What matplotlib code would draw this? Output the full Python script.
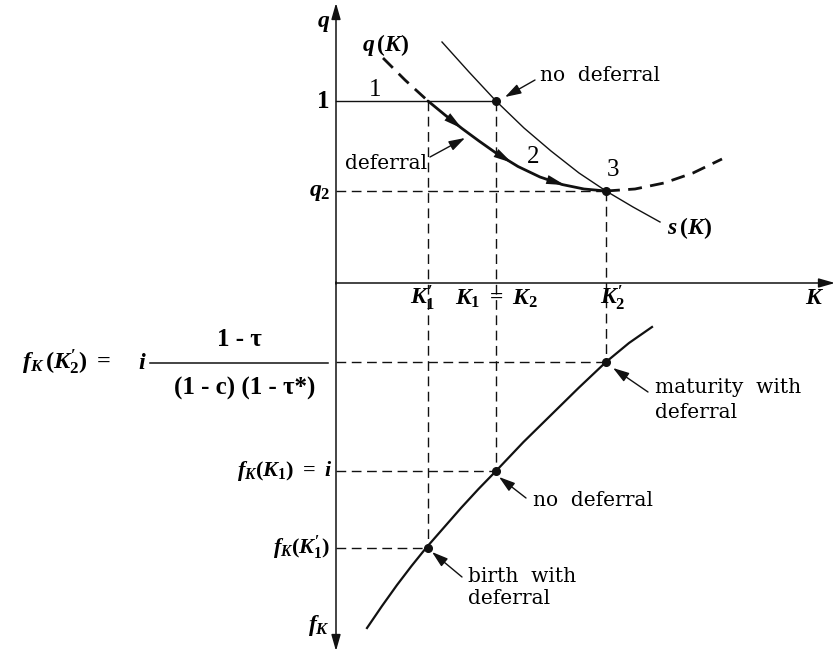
import numpy as np
import matplotlib
matplotlib.use("Agg")
import matplotlib.pyplot as plt

# diagram values (origin = axes crossing, q up, f_K down)
K1p, K1, K2p = 0.92, 1.60, 2.70
q_one, q2 = 1.82, 0.92
fK2p, fK1, fK1p = -0.79, -1.88, -2.65

# s(K) curve
sK_x = [1.06, 1.33, 1.60, 1.88, 2.15, 2.43, 2.70, 2.97, 3.24]
sK_y = [2.41, 2.11, 1.82, 1.55, 1.32, 1.10, 0.92, 0.76, 0.61]

# q(K) curve: solid part with deferral, dashed parts outside
qK_x = [0.92, 1.09, 1.26, 1.43, 1.60, 1.82, 2.04, 2.26, 2.48, 2.70]
qK_y = [1.82, 1.68, 1.545, 1.42, 1.30, 1.165, 1.06, 0.985, 0.94, 0.92]
qK_left_x = [0.47, 0.69, 0.92]
qK_left_y = [2.25, 2.03, 1.82]
qK_right_x = [2.70, 2.99, 3.28, 3.57, 3.86]
qK_right_y = [0.92, 0.94, 1.00, 1.10, 1.24]
arrow_K = [1.26, 1.76, 2.29]

# f_K curve (plotted downward)
fK_x = [0.31, 0.46, 0.61, 0.755, 0.90, 1.075, 1.25, 1.425, 1.60, 1.875, 2.15, 2.425, 2.70, 2.93, 3.16]
fK_y = [-3.45, -3.23, -3.02, -2.83, -2.65, -2.45, -2.25, -2.06, -1.88, -1.59, -1.32, -1.05, -0.79, -0.60, -0.44]

plt.rcParams['font.family'] = 'DejaVu Serif'
plt.rcParams['mathtext.fontset'] = 'custom'
plt.rcParams['mathtext.rm'] = 'Liberation Serif:bold'
plt.rcParams['mathtext.it'] = 'Liberation Serif:italic:bold'
plt.rcParams['mathtext.bf'] = 'Liberation Serif:bold'

fig = plt.figure(figsize=(8.37, 6.53), dpi=100)
ax = fig.add_axes([0, 0, 1, 1])
ax.set_xlim(-3.36, 5.01)
ax.set_ylim(-3.70, 2.83)
ax.axis('off')

ink = '#111111'
dash = (0, (7, 4))
ax_arr = dict(arrowstyle='-|>,head_length=0.7,head_width=0.2', color=ink, lw=1.1,
              mutation_scale=14, shrinkA=0, shrinkB=0)

# axes
ax.annotate('', xy=(0, 2.80), xytext=(0, -0.01), arrowprops=ax_arr)
ax.annotate('', xy=(0, -3.68), xytext=(0, 0.01), arrowprops=ax_arr)
ax.annotate('', xy=(4.99, 0), xytext=(0, 0), arrowprops=ax_arr)

# guide lines
ax.plot([0, K1], [q_one, q_one], color=ink, lw=1.0)
ax.plot([0, K2p], [q2, q2], color=ink, lw=1.0, ls=dash)
ax.plot([K1p, K1p], [q_one, fK1p], color=ink, lw=1.0, ls=dash)
ax.plot([K1, K1], [q_one, fK1], color=ink, lw=1.0, ls=dash)
ax.plot([K2p, K2p], [q2, fK2p], color=ink, lw=1.0, ls=dash)
ax.plot([0, K2p], [fK2p, fK2p], color=ink, lw=1.0, ls=dash)
ax.plot([0, K1], [fK1, fK1], color=ink, lw=1.0, ls=dash)
ax.plot([0, K1p], [fK1p, fK1p], color=ink, lw=1.0, ls=dash)

# curves
ax.plot(sK_x, sK_y, color=ink, lw=1.0)
ax.plot(qK_x, qK_y, color=ink, lw=2.0, solid_capstyle='round')
ax.plot(qK_left_x, qK_left_y, color=ink, lw=2.0, ls=(0, (5, 3)))
ax.plot(qK_right_x, qK_right_y, color=ink, lw=2.0, ls=(0, (5, 3)))
ax.plot(fK_x, fK_y, color=ink, lw=1.6)

for k in arrow_K:
    y_tip = np.interp(k, qK_x, qK_y)
    y_tail = np.interp(k - 0.15, qK_x, qK_y)
    ax.annotate('', xy=(k, y_tip), xytext=(k - 0.15, y_tail),
                arrowprops=dict(arrowstyle='-|>,head_length=0.9,head_width=0.22', color=ink,
                                lw=0, mutation_scale=15, shrinkA=0, shrinkB=0))

# points
ax.plot([K1, K2p, K2p, K1, K1p], [q_one, q2, fK2p, fK1, fK1p], 'o', color=ink, ms=5.5)

fs = 14.5
mfs = 17
ax.text(-0.06, 2.60, '$q$', ha='right', va='center', fontsize=mfs)
ax.text(-0.06, q_one, '1', ha='right', va='center', fontsize=18, family='Liberation Serif',
        fontweight='bold')
ax.text(-0.06, q2, '$q_2$', ha='right', va='center', fontsize=mfs)
ax.text(4.79, -0.14, '$K$', ha='center', va='center', fontsize=mfs)
ax.text(0.87, -0.15, "$K_1'$", ha='center', va='center', fontsize=mfs)
ax.text(1.61, -0.15, '$K_1\\ =\\ K_2$', ha='center', va='center', fontsize=mfs)
ax.text(2.77, -0.15, "$K_2'$", ha='center', va='center', fontsize=mfs)
ax.text(0.50, 2.38, '$q\\,(K)$', ha='center', va='center', fontsize=mfs)
ax.text(3.31, 0.55, '$s\\,(K)$', ha='left', va='center', fontsize=mfs)
ax.text(0.39, 1.93, '1', ha='center', va='center', fontsize=18, family='Liberation Serif')
ax.text(1.97, 1.26, '2', ha='center', va='center', fontsize=18, family='Liberation Serif')
ax.text(2.77, 1.13, '3', ha='center', va='center', fontsize=18, family='Liberation Serif')
ax.text(-0.06, -3.42, '$f_K$', ha='right', va='center', fontsize=mfs)
ax.text(-0.04, fK1, '$f_K(K_1)\\ =\\ i$', ha='right', va='center', fontsize=16)
ax.text(-0.06, fK1p, "$f_K(K_1')$", ha='right', va='center', fontsize=16)

# formula on the left
ax.text(-3.14, -0.79, "$f_K\\,(K_2')\\ =$", ha='left', va='center', fontsize=17.5)
ax.text(-1.94, -0.79, '$i$', ha='center', va='center', fontsize=17.5)
ax.plot([-1.86, -0.08], [-0.80, -0.80], color=ink, lw=1.1)
ax.text(-0.97, -0.56, '1 - \u03c4', ha='center', va='center', fontsize=18,
        family='Liberation Serif', fontweight='bold')
ax.text(-0.91, -1.05, '(1 - c) (1 - \u03c4*)', ha='center', va='center', fontsize=18,
        family='Liberation Serif', fontweight='bold')

# annotations with pointer arrows
arr = dict(arrowstyle='-|>,head_length=0.7,head_width=0.22', color=ink, lw=1.0,
           mutation_scale=14, shrinkA=0, shrinkB=0)
ax.annotate('', xy=(1.69, 1.86), xytext=(1.99, 2.03), arrowprops=arr)
ax.text(2.04, 2.08, 'no  deferral', ha='left', va='center', fontsize=fs)
ax.annotate('', xy=(1.29, 1.45), xytext=(0.94, 1.26), arrowprops=arr)
ax.text(0.91, 1.20, 'deferral', ha='right', va='center', fontsize=fs)
ax.annotate('', xy=(2.77, -0.85), xytext=(3.12, -1.09), arrowprops=arr)
ax.text(3.19, -1.04, 'maturity  with', ha='left', va='center', fontsize=fs)
ax.text(3.19, -1.29, 'deferral', ha='left', va='center', fontsize=fs)
ax.annotate('', xy=(1.63, -1.94), xytext=(1.90, -2.15), arrowprops=arr)
ax.text(1.97, -2.17, 'no  deferral', ha='left', va='center', fontsize=fs)
ax.annotate('', xy=(0.96, -2.69), xytext=(1.26, -2.94), arrowprops=arr)
ax.text(1.32, -2.94, 'birth  with', ha='left', va='center', fontsize=fs)
ax.text(1.32, -3.15, 'deferral', ha='left', va='center', fontsize=fs)

fig.savefig('out.png', dpi=100)
